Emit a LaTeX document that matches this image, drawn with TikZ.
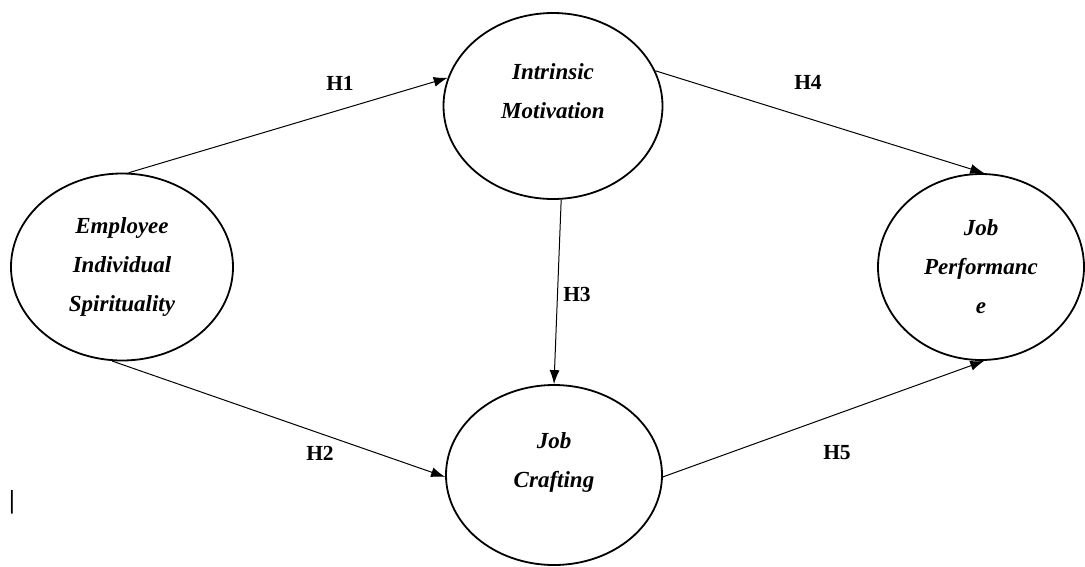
\documentclass[tikz,border=0pt]{standalone}
\usepackage{fontspec}
\setmainfont{Liberation Serif}
\usetikzlibrary{shapes.geometric}
\usetikzlibrary{arrows.meta}

\begin{document}
\begin{tikzpicture}[
  x=1pt, y=-1pt,
  construct/.style={draw,ellipse,line width=1.8pt,inner sep=0pt,align=center,
    font=\fontsize{23}{39}\selectfont\bfseries\itshape},
  hyp/.style={font=\fontsize{21.5}{24}\selectfont\bfseries},
  arr/.style={-{Latex[length=14pt,width=10pt]},line width=1pt}
]
\useasboundingbox (0,0) rectangle (1085,566);

\node[construct,minimum width=222pt,minimum height=187pt] (esi) at (122,267) {Employee\\Individual\\Spirituality};
\node[construct,minimum width=219pt,minimum height=186pt] (im) at (553,106) {Intrinsic\\Motivation\\[-9pt]\mbox{}};
\node[construct,minimum width=216pt,minimum height=180pt] (jc) at (554,475) {Job\\Crafting\\[-9pt]\mbox{}};
\node[construct,minimum width=206pt,minimum height=186pt] (jp) at (981,267) {Job\\Performanc\\e};

\node[hyp] (h1) at (340,83) {H1};
\node[hyp] (h2) at (320,453) {H2};
\node[hyp] (h3) at (577,294) {H3};
\node[hyp] (h4) at (808,82) {H4};
\node[hyp] (h5) at (837,453) {H5};

\node[font=\fontsize{26}{30}\selectfont\bfseries,inner sep=0pt] (bar) at (12,502) {|};

\path (esi.86) edge[arr] (im.165)
(esi.264) edge[arr] (jc.181)
(im.275) edge[arr] (jc.90)
(im.19) edge[arr] (jp.88)
(jc.359) edge[arr] (jp.272)
;

\end{tikzpicture}
\end{document}
